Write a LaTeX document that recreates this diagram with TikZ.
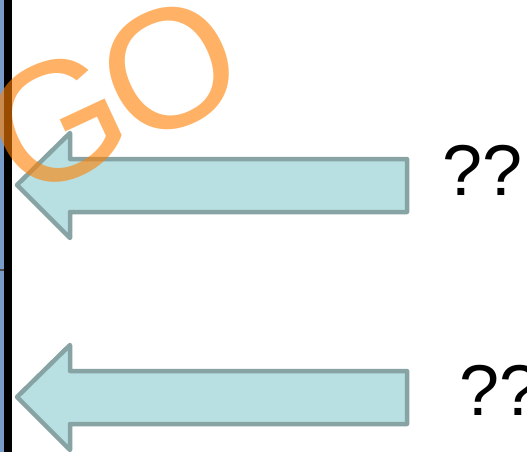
\documentclass[tikz,border=0pt]{standalone}
\usepackage{fontspec}
\setmainfont{Liberation Sans}
\definecolor{arrowfill}{HTML}{B8DFE1}
\definecolor{arrowline}{HTML}{87A3A4}
\definecolor{stripblue}{HTML}{7A9CC8}
\tikzset{
  bigarrow/.style={fill=arrowfill, draw=arrowline, line width=4.5pt, line join=round},
  qmark/.style={anchor=base west, inner sep=0pt, font=\fontsize{72}{72}\selectfont},
}
\begin{document}
\begin{tikzpicture}[x=1pt,y=-1pt]
\useasboundingbox (0,0) rectangle (527,452);
\fill[white] (0,0) rectangle (527,452);
% left strip
\fill[stripblue] (0,0) rectangle (4,452);
\fill[black!70] (0,269) rectangle (4,271);
\fill[black] (4,0) rectangle (12,452);
% arrows
\draw[bigarrow] (17,185) -- (70,133) -- (70,159) -- (407,159) -- (407,212) -- (70,212) -- (70,238) -- cycle;
\draw[bigarrow] (17,397) -- (70,345) -- (70,371) -- (407,371) -- (407,424) -- (70,424) -- (70,450) -- cycle;
% labels
\node[qmark] (q1) at (442,195) {??};
\node[qmark] (q2) at (459,415) {??};
% GO
\node[text={rgb,1:red,1;green,0.5;blue,0}, text opacity=0.6, rotate=25, inner sep=0pt,
      font=\fontsize{170}{170}\selectfont] (go) at (113,95) {G\kern-7pt O};
\end{tikzpicture}
\end{document}
